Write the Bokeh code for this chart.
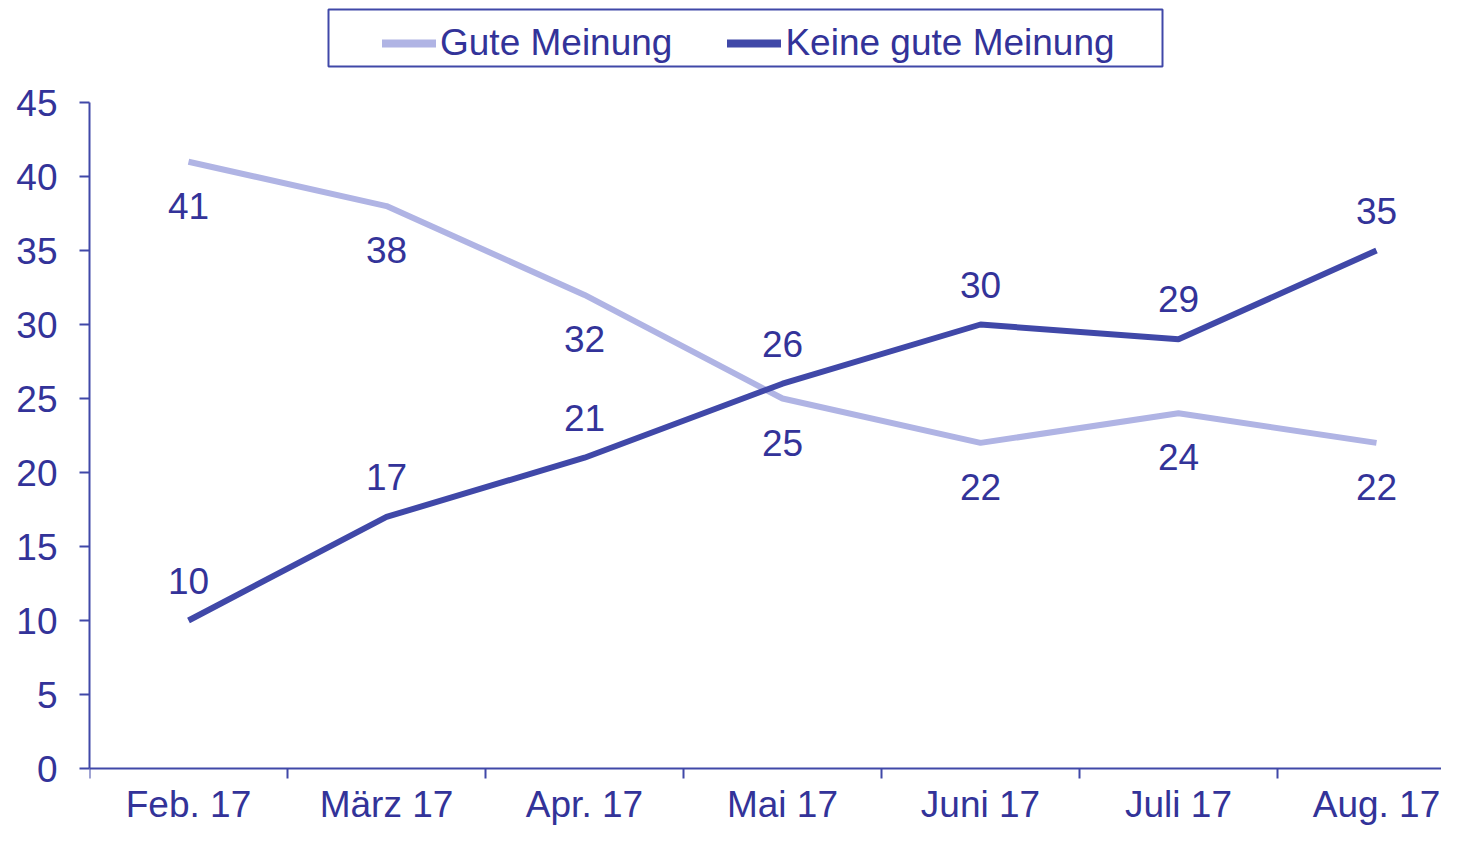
from bokeh.plotting import figure
from bokeh.models import (Range1d, FixedTicker, Legend, LegendItem, BoxAnnotation,
                          ColumnDataSource)
from bokeh.core.properties import value
from bokeh.embed import file_html
from bokeh.resources import INLINE

months = ["Feb. 17", "März 17", "Apr. 17", "Mai 17", "Juni 17", "Juli 17", "Aug. 17"]
gute = [41, 38, 32, 25, 22, 24, 22]
keine = [10, 17, 21, 26, 30, 29, 35]
y_ticks = [0, 5, 10, 15, 20, 25, 30, 35, 40, 45]

TEXT = "#333399"
AXIS = "#4048a8"
LIGHT = "#b0b4e4"
DARK = "#4048a8"
FONT = "Liberation Sans"
FS = "37px"

W, H = 1441, 829
LEFT = 89
Y_TOP_PX, Y_ZERO_PX = 102, 768          # pixel rows of 45 and 0
ppu = (Y_ZERO_PX - Y_TOP_PX) / 45.0
y_start = -(H - Y_ZERO_PX) / ppu
y_end = 45 + Y_TOP_PX / ppu
x_end = (W - LEFT) / 198.0

xpos = [i + 0.5 for i in range(len(months))]
src = ColumnDataSource(dict(x=xpos, gute=gute, keine=keine,
                            gute_t=[str(v) for v in gute],
                            keine_t=[str(v) for v in keine]))

p = figure(width=W, height=H, output_backend="svg", toolbar_location=None,
           x_range=Range1d(0, x_end), y_range=Range1d(y_start, y_end),
           min_border_left=LEFT, min_border_right=0, min_border_top=0, min_border_bottom=0)
p.outline_line_color = None
p.xgrid.visible = False
p.ygrid.visible = False

r1 = p.line("x", "gute", source=src, line_color=LIGHT, line_width=6)
r2 = p.line("x", "keine", source=src, line_color=DARK, line_width=6)

# legend proxies (thicker, rounded, as in the legend of the original); nothing drawn in the plot
nan = float("nan")
proxy = ColumnDataSource(dict(x=[nan], y=[nan]))
l1 = p.line("x", "y", source=proxy, line_color=LIGHT, line_width=8, line_cap="round")
l2 = p.line("x", "y", source=proxy, line_color=DARK, line_width=8, line_cap="round")

p.text("x", "gute", text="gute_t", source=src, y_offset=44, text_align="center",
       text_baseline="middle", text_font=value(FONT), text_font_size=FS, text_color=TEXT)
p.text("x", "keine", text="keine_t", source=src, y_offset=-40, text_align="center",
       text_baseline="middle", text_font=value(FONT), text_font_size=FS, text_color=TEXT)

# axes
p.yaxis.ticker = FixedTicker(ticks=y_ticks)
p.yaxis.bounds = (0, 45)
p.yaxis.major_tick_in = 0
p.yaxis.major_tick_out = 10
p.yaxis.major_label_standoff = 22

p.xaxis.fixed_location = 0
p.xaxis.ticker = FixedTicker(ticks=xpos, minor_ticks=list(range(len(months) + 1)))
p.xaxis.major_label_overrides = {x: m for x, m in zip(xpos, months)}
p.xaxis.major_tick_in = 0
p.xaxis.major_tick_out = 0
p.xaxis.minor_tick_in = 0
p.xaxis.minor_tick_out = 10
p.xaxis.major_label_standoff = 5

for ax in (p.xaxis, p.yaxis):
    ax.axis_line_color = AXIS
    ax.axis_line_width = 2
    ax.major_tick_line_color = AXIS
    ax.major_tick_line_width = 2
    ax.minor_tick_line_color = AXIS
    ax.minor_tick_line_width = 2
    ax.major_label_text_font = FONT
    ax.major_label_text_font_size = FS
    ax.major_label_text_color = TEXT
p.yaxis.minor_tick_line_color = None

# legend
legend = Legend(items=[LegendItem(label="Gute Meinung", renderers=[l1]),
                       LegendItem(label="Keine gute Meinung", renderers=[l2])],
                orientation="horizontal", location=(293, H - 4 - 68 + 8),
                padding=8, spacing=55, glyph_width=54, label_standoff=4,
                label_text_font=FONT, label_text_font_size=FS, label_text_color=TEXT,
                border_line_color=None, background_fill_alpha=0, margin=0)
p.add_layout(legend, "center")

box = BoxAnnotation(left=328, right=1162, top=9, bottom=66,
                    left_units="canvas", right_units="canvas",
                    top_units="canvas", bottom_units="canvas",
                    fill_alpha=0, line_color=AXIS, line_width=2, line_alpha=1)
p.add_layout(box)

open("out.html", "w").write(file_html(p, INLINE))
